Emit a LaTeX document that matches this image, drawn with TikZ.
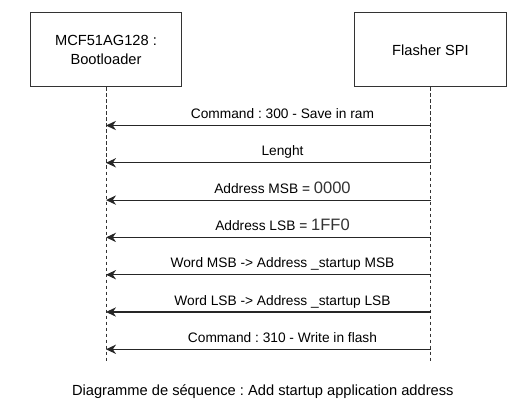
\documentclass[tikz,border=0pt]{standalone}
\usepackage{fontspec}
\setmainfont{Liberation Sans}
\usetikzlibrary{arrows.meta}
\newcommand{\hexnum}[1]{{\fontsize{12.4}{12}\selectfont\color{black!80}#1}}
\frenchspacing
\begin{document}
\begin{tikzpicture}[x=0.75pt,y=0.75pt,yscale=-1,xscale=1,
  actor/.style={draw=black!80,line width=0.75,minimum width=113.6pt,minimum height=55.5pt,align=center,inner sep=0.75pt,font=\fontsize{11}{13.7}\selectfont},
  lifeline/.style={draw=black!80,line width=0.75,dash pattern=on 2.6pt off 1.9pt},
  msg/.style={draw=black!85,line width=0.8,-{Stealth[length=7.5pt,width=7pt,inset=2.4pt]}},
  msglabel/.style={anchor=base,inner sep=0.75pt,font=\fontsize{10.3}{12}\selectfont}]
\path (0,0) rectangle (530,413); %set diagram size

% Actors
\node [actor] (boot) at (106,50) {MCF51AG128 :\\Bootloader};
\node [actor] (flasher) at (430.5,50) {Flasher SPI};

% Lifelines
\coordinate (bootend) at (106,361);
\coordinate (flend) at (430.5,361);
\draw [lifeline] (boot.south) -- (bootend);
\draw [lifeline] (flasher.south) -- (flend);

% Message ends
\coordinate (fl1) at (430.5,125.5); \coordinate (bl1) at (106,125.5);
\coordinate (fl2) at (430.5,162.8); \coordinate (bl2) at (106,162.8);
\coordinate (fl3) at (430.5,200.1); \coordinate (bl3) at (106,200.1);
\coordinate (fl4) at (430.5,237.4); \coordinate (bl4) at (106,237.4);
\coordinate (fl5) at (430.5,274.7); \coordinate (bl5) at (106,274.7);
\coordinate (fl6) at (430.5,312.0); \coordinate (bl6) at (106,312.0);
\coordinate (fl7) at (430.5,349.3); \coordinate (bl7) at (106,349.3);

%Straight Lines
\draw [msg] (fl1) -- (bl1);
\draw [msg] (fl2) -- (bl2);
\draw [msg] (fl3) -- (bl3);
\draw [msg] (fl4) -- (bl4);
\draw [msg] (fl5) -- (bl5);
\draw [msg] (fl6) -- (bl6);
\draw [msg] (fl7) -- (bl7);

% Text Node
\node [msglabel] (cmd300) at (282.5,118.5) {Command : 300 - Save in ram};
% Text Node
\node [msglabel] (length) at (282.5,155.8) {Lenght};
% Text Node
\node [msglabel] (addrmsb) at (282.5,193.1) {Address MSB = \hexnum{0000}};
% Text Node
\node [msglabel] (addrlsb) at (282.5,230.4) {Address LSB = \hexnum{1FF0}};
% Text Node
\node [msglabel] (wordmsb) at (282.5,267.7) {Word MSB -> Address \_startup MSB};
% Text Node
\node [msglabel] (wordlsb) at (282.5,305.0) {Word LSB -> Address \_startup LSB};
% Text Node
\node [msglabel] (cmd310) at (282.5,342.3) {Command : 310 - Write in flash};

% Caption
\node [anchor=base,inner sep=0.75pt,font=\fontsize{11}{13}\selectfont] (caption) at (262.8,395) {Diagramme de séquence : Add startup application address};

\end{tikzpicture}
\end{document}
